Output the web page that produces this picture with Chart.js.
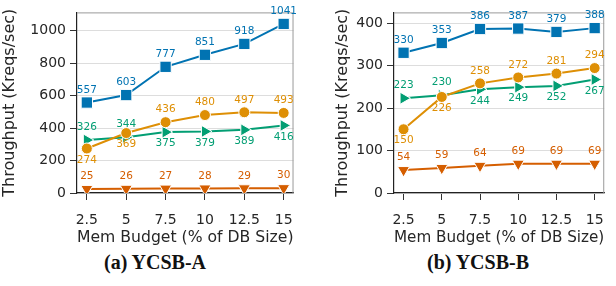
<!DOCTYPE html>
<html>
<head>
<meta charset="utf-8">
<script src="https://cdn.jsdelivr.net/npm/chart.js@4"></script>
<style>
  body { margin: 0; background: #fff; }
  #wrap { position: relative; width: 616px; height: 286px; overflow: hidden; }
  .panel { position: absolute; top: 0; }
  .caption { position: absolute; font-family: "Liberation Serif", "DejaVu Serif", serif; font-weight: bold;
             font-size: 20px; color: #111; white-space: nowrap; transform: translateX(-50%); top: 251px; }
</style>
</head>
<body>
<div id="wrap">
  <div class="panel" style="left:0"><canvas id="chartA" width="305" height="250"></canvas></div>
  <div class="panel" style="left:333px"><canvas id="chartB" width="283" height="250"></canvas></div>
  <div class="caption" style="left:155px">(a) YCSB-A</div>
  <div class="caption" style="left:478px">(b) YCSB-B</div>
</div>
<script>
// memory budget (% of DB size)
const memBudget = [2.5, 5, 7.5, 10, 12.5, 15];
const xTickLabels = ['2.5', '5', '7.5', '10', '12.5', '15'];

// YCSB-A throughput (Kreqs/sec)
const ycsbABlue = [557, 603, 777, 851, 918, 1041];
const ycsbAOrange = [274, 369, 436, 480, 497, 493];
const ycsbAGreen = [326, 344, 375, 379, 389, 416];
const ycsbARed = [25, 26, 27, 28, 29, 30];
const ycsbATicks = [0, 200, 400, 600, 800, 1000];

// YCSB-B throughput (Kreqs/sec)
const ycsbBBlue = [330, 353, 386, 387, 379, 388];
const ycsbBOrange = [150, 226, 258, 272, 281, 294];
const ycsbBGreen = [223, 230, 244, 249, 252, 267];
const ycsbBRed = [54, 59, 64, 69, 69, 69];
const ycsbBTicks = [0, 100, 200, 300, 400];

const BLUE = '#0173b2', ORANGE = '#de8f05', GREEN = '#029e73', RED = '#d55e00';
const TEXT = '#262626';
const FONT = 'DejaVu Sans';

// where each value label goes: 1 = above the point, -1 = below
const aboveAll = [1, 1, 1, 1, 1, 1];
const orangeSide = [-1, -1, 1, 1, 1, 1];
const greenSide = [1, 1, -1, -1, -1, -1];

function series(values, color, style, rotation, radius, side) {
    return {
        data: values.map((v, i) => ({ x: memBudget[i], y: v })),
        borderColor: color,
        backgroundColor: color,
        borderWidth: 2,
        pointStyle: style,
        rotation: rotation,
        pointRadius: radius,
        pointHoverRadius: radius,
        pointBackgroundColor: color,
        pointBorderColor: '#ffffff',
        pointBorderWidth: 1,
        labelSide: side
    };
}

const valueLabels = {
    id: 'valueLabels',
    afterDatasetsDraw(chart) {
        const ctx = chart.ctx;
        ctx.save();
        ctx.font = '10.5px "' + FONT + '"';
        ctx.textAlign = 'center';
        ctx.textBaseline = 'middle';
        chart.data.datasets.forEach((ds, di) => {
            const meta = chart.getDatasetMeta(di);
            meta.data.forEach((pt, i) => {
                ctx.fillStyle = ds.borderColor;
                const dy = ds.labelSide[i] > 0 ? -12.5 : 11.5;
                ctx.fillText(String(ds.data[i].y), pt.x, pt.y + dy);
            });
        });
        ctx.restore();
    }
};

const frame = {
    id: 'frame',
    beforeDatasetsDraw(chart) {
        const { ctx, chartArea: a } = chart;
        ctx.save();
        ctx.strokeStyle = '#999999';
        ctx.lineWidth = 1;
        ctx.beginPath();
        ctx.moveTo(a.left, a.top + 0.5);
        ctx.lineTo(a.right - 0.5, a.top + 0.5);
        ctx.lineTo(a.right - 0.5, a.bottom);
        ctx.stroke();
        ctx.restore();
    }
};

function makeChart(id, sets, yMax, yTicks, yWidth, padRight) {
    return new Chart(document.getElementById(id), {
        type: 'line',
        data: { datasets: sets },
        plugins: [frame, valueLabels],
        options: {
            responsive: false,
            animation: false,
            layout: { padding: { top: 5, right: padRight, bottom: 0, left: 0 } },
            plugins: { legend: { display: false }, tooltip: { enabled: false } },
            scales: {
                x: {
                    type: 'linear',
                    min: 1.875,
                    max: 15.625,
                    afterBuildTicks: s => { s.ticks = memBudget.map(v => ({ value: v })); },
                    afterFit: s => { s.height = 57; },
                    ticks: {
                        color: TEXT,
                        font: { family: FONT, size: 14 },
                        padding: 12,
                        maxRotation: 0,
                        autoSkip: false,
                        callback: (v, i) => xTickLabels[i]
                    },
                    grid: { drawOnChartArea: false, drawTicks: true, tickLength: 7, tickColor: '#333333' },
                    border: { display: true, color: '#222222', width: 1.2 },
                    title: {
                        display: true,
                        text: 'Mem Budget (% of DB Size)',
                        color: TEXT,
                        font: { family: FONT, size: 16 },
                        padding: { top: 0, bottom: 3 }
                    }
                },
                y: {
                    min: 0,
                    max: yMax,
                    afterBuildTicks: s => { s.ticks = yTicks.map(v => ({ value: v })); },
                    afterFit: s => { s.width = yWidth; },
                    ticks: {
                        color: TEXT,
                        font: { family: FONT, size: 14 },
                        padding: 4,
                        callback: v => String(v)
                    },
                    grid: { color: '#dddddd', lineWidth: 1, tickLength: 7, tickColor: '#333333' },
                    border: { display: true, color: '#222222', width: 1.2 },
                    title: {
                        display: true,
                        text: 'Throughput (Kreqs/sec)',
                        color: TEXT,
                        font: { family: FONT, size: 16 },
                        padding: { top: 0, bottom: 0 }
                    }
                }
            }
        }
    });
}

makeChart('chartA', [
    series(ycsbABlue, BLUE, 'rect', 0, 8, aboveAll),
    series(ycsbAOrange, ORANGE, 'circle', 0, 5.5, orangeSide),
    series(ycsbAGreen, GREEN, 'triangle', 90, 7, greenSide),
    series(ycsbARed, RED, 'triangle', 180, 7, aboveAll)
], 1112, ycsbATicks, 77, 7);

makeChart('chartB', [
    series(ycsbBBlue, BLUE, 'rect', 0, 8, aboveAll),
    series(ycsbBOrange, ORANGE, 'circle', 0, 5.5, orangeSide),
    series(ycsbBGreen, GREEN, 'triangle', 90, 7, greenSide),
    series(ycsbBRed, RED, 'triangle', 180, 7, aboveAll)
], 425, ycsbBTicks, 61, 4);
</script>
</body>
</html>
